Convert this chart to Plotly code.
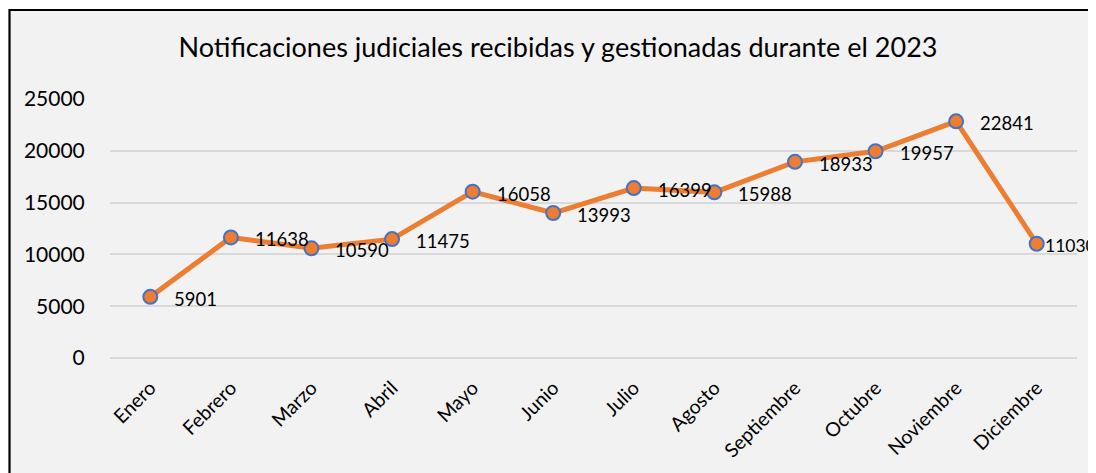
import plotly.graph_objects as go

months = ["Enero", "Febrero", "Marzo", "Abril", "Mayo", "Junio", "Julio",
          "Agosto", "Septiembre", "Octubre", "Noviembre", "Diciembre"]
values = [5901, 11638, 10590, 11475, 16058, 13993, 16399, 15988, 18933, 19957, 22841, 11030]
y_ticks = [0, 5000, 10000, 15000, 20000, 25000]
y_tick_labels = ["0", "5000", "10000", "15000", "20000", "25000"]
title_text = "Notificaciones judiciales recibidas y gestionadas durante el 2023"

FONT = "Lato"
OFF = 8  # the page body has an 8px margin

W, H = 1096 - OFF, 473 - OFF
l = 110 - OFF
t = 99 - OFF
r = 1096 - 1077
b = H - (358 - OFF)
pw, ph = W - l - r, H - t - b

def px_to_paper_x(px):
    return (px - OFF - l) / pw

def py_to_paper_y(py):
    return (H - b - (py - OFF)) / ph

fig = go.Figure()
fig.add_trace(go.Scatter(
    x=months, y=values,
    mode="lines+markers",
    line=dict(color="#ED7D31", width=5),
    marker=dict(size=14, color="#ED7D31", line=dict(color="#4472C4", width=2)),
    cliponaxis=False,
    showlegend=False,
    hoverinfo="x+y",
))

last = len(values) - 1
for i, (m, v) in enumerate(zip(months, values)):
    is_last = i == last
    fig.add_annotation(x=m, y=v, text=str(v), showarrow=False,
                       xanchor="left", yanchor="middle",
                       xshift=(6 if is_last else 22), yshift=-2,
                       font=dict(family=FONT, size=(17.5 if is_last else 18.5),
                                 color="#000000"))

fig.add_shape(type="rect", xref="paper", yref="paper",
              x0=px_to_paper_x(9.5), x1=px_to_paper_x(1120),
              y0=py_to_paper_y(500), y1=py_to_paper_y(10),
              fillcolor="#F2F2F2", line=dict(color="#000000", width=2.2),
              layer="below")

fig.update_layout(
    width=W, height=H,
    margin=dict(l=l, r=r, t=t, b=b),
    paper_bgcolor="#FFFFFF",
    plot_bgcolor="rgba(0,0,0,0)",
    font=dict(family=FONT, color="#000000"),
    title=dict(text=title_text, xref="container", x=(558 - OFF) / W, xanchor="center",
               yref="container", y=1 - (48 - OFF) / H, yanchor="middle",
               font=dict(family=FONT, size=27, color="#000000")),
    xaxis=dict(type="category", range=[-0.5, 11.5], tickangle=-45,
               showgrid=False, showline=False, zeroline=False,
               ticks="outside", ticklen=10, tickcolor="rgba(0,0,0,0)",
               tickfont=dict(family=FONT, size=19.5, color="#000000")),
    yaxis=dict(range=[0, 25000], tickvals=y_ticks, ticktext=y_tick_labels,
               showgrid=True, gridcolor="#D9D9D9", gridwidth=1.5,
               zeroline=True, zerolinecolor="#D9D9D9", zerolinewidth=1.5,
               showline=False,
               ticks="outside", ticklen=20, tickcolor="rgba(0,0,0,0)",
               tickfont=dict(family=FONT, size=21, color="#000000")),
)

fig.write_html("out.html")
